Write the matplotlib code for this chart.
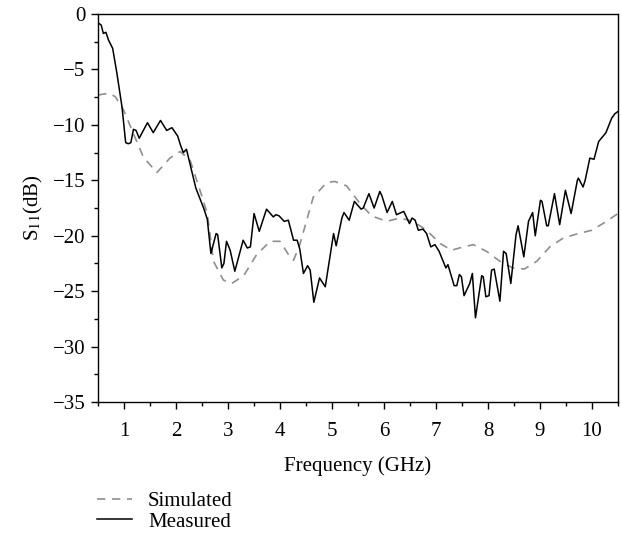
import numpy as np
import matplotlib
matplotlib.use('Agg')
import matplotlib.pyplot as plt
from matplotlib.ticker import MultipleLocator

# Measured S11 (jagged curve)
meas_f = [0.5, 0.56, 0.6, 0.65, 0.7, 0.78, 0.86, 0.96, 1.03, 1.08, 1.13, 1.18, 1.23, 1.29,
          1.45, 1.56, 1.70, 1.82, 1.92, 2.03, 2.09, 2.14, 2.2, 2.38, 2.53, 2.6, 2.67, 2.77,
          2.8, 2.88, 2.92, 2.97, 3.04, 3.13, 3.29, 3.37, 3.43, 3.5, 3.6, 3.74, 3.87, 3.92,
          3.98, 4.08, 4.16, 4.26, 4.33, 4.38, 4.45, 4.53, 4.58, 4.65, 4.76, 4.87, 5.03, 5.08,
          5.19, 5.23, 5.33, 5.43, 5.56, 5.6, 5.71, 5.81, 5.92, 5.96, 6.06, 6.16, 6.24, 6.38,
          6.49, 6.54, 6.6, 6.66, 6.75, 6.82, 6.9, 6.98, 7.06, 7.19, 7.23, 7.35, 7.4, 7.45,
          7.49, 7.54, 7.65, 7.7, 7.76, 7.88, 7.91, 7.96, 8.02, 8.07, 8.12, 8.23, 8.30, 8.35,
          8.44, 8.54, 8.58, 8.69, 8.78, 8.86, 8.91, 9.01, 9.04, 9.13, 9.16, 9.28, 9.38, 9.49,
          9.60, 9.72, 9.74, 9.83, 9.87, 9.96, 10.04, 10.13, 10.27, 10.38, 10.44, 10.5]
meas_s = [-0.8, -1.0, -1.75, -1.65, -2.35, -3.1, -5.3, -8.4, -11.6, -11.7, -11.6, -10.4, -10.5, -11.2,
          -9.8, -10.7, -9.6, -10.5, -10.25, -11.0, -11.9, -12.5, -12.2, -15.7, -17.5, -18.5, -21.6, -19.8,
          -19.9, -22.9, -22.5, -20.5, -21.3, -23.2, -20.4, -21.1, -21.0, -18.0, -19.6, -17.6, -18.3, -18.1,
          -18.2, -18.7, -18.6, -20.4, -20.4, -21.2, -23.4, -22.7, -23.1, -26.0, -23.8, -24.6, -19.8, -20.9,
          -18.4, -17.9, -18.6, -16.9, -17.6, -17.5, -16.2, -17.5, -16.0, -16.4, -17.9, -16.9, -18.1, -17.8,
          -18.9, -18.4, -18.6, -19.5, -19.4, -19.8, -21.0, -20.8, -21.4, -22.9, -22.6, -24.5, -24.5, -23.5,
          -23.7, -25.4, -24.3, -23.4, -27.4, -23.6, -23.7, -25.5, -25.4, -23.1, -23.0, -25.9, -21.4, -21.6,
          -24.3, -19.9, -19.1, -21.9, -18.7, -17.9, -20.0, -16.8, -16.9, -19.1, -19.1, -16.2, -19.0, -15.9,
          -18.0, -15.0, -14.8, -15.6, -15.0, -13.0, -13.1, -11.5, -10.7, -9.4, -9.0, -8.8]

# Simulated S11 (smooth dashed curve)
sim_f = [0.5, 0.7, 0.83, 0.99, 1.18, 1.37, 1.63, 1.88, 2.08, 2.27, 2.46, 2.6, 2.72, 2.91, 3.07,
         3.3, 3.55, 3.81, 4.0, 4.19, 4.26, 4.38, 4.64, 4.9, 5.05, 5.28, 5.54, 5.76, 6.05, 6.31,
         6.56, 6.82, 7.08, 7.3, 7.53, 7.72, 7.97, 8.23, 8.48, 8.7, 8.94, 9.19, 9.45, 9.74,
         10.0, 10.28, 10.5]
sim_s = [-7.3, -7.15, -7.45, -8.65, -10.8, -12.9, -14.3, -13.0, -12.4, -13.2, -15.9, -18.0, -22.3, -24.0, -24.3,
         -23.6, -21.7, -20.5, -20.5, -21.9, -22.2, -20.8, -16.5, -15.2, -15.1, -15.5, -17.1, -18.2, -18.7, -18.4,
         -18.7, -19.5, -20.7, -21.3, -21.0, -20.8, -21.4, -22.3, -22.9, -23.0, -22.3, -21.0, -20.2, -19.8,
         -19.5, -18.7, -18.0]

x_ticks = [1, 2, 3, 4, 5, 6, 7, 8, 9, 10]
y_ticks = [0, -5, -10, -15, -20, -25, -30, -35]

plt.rcParams['font.family'] = ['Liberation Serif', 'DejaVu Serif']
plt.rcParams['mathtext.fontset'] = 'stix'
plt.rcParams['font.size'] = 15

fig = plt.figure(figsize=(6.21, 5.39), dpi=100)
ax = fig.add_axes([0.158, 0.254, 0.837, 0.720])

sim_line, = ax.plot(sim_f, sim_s, color='#8f8f8f', lw=1.2, dashes=(5, 4), label='Simulated')
meas_line, = ax.plot(meas_f, meas_s, color='black', lw=1.1, label='Measured')

ax.set_xlim(0.5, 10.5)
ax.set_ylim(-35, 0)
ax.set_xticks(x_ticks)
ax.set_yticks(y_ticks)
ax.xaxis.set_minor_locator(MultipleLocator(0.5))
ax.yaxis.set_minor_locator(MultipleLocator(2.5))
ax.tick_params(which='both', direction='out', top=False, right=False, labelsize=15)
ax.tick_params(which='major', length=5, width=1, pad=4)
ax.tick_params(which='minor', length=3, width=1)
ax.tick_params(axis='x', which='major', pad=9)
for sp in ax.spines.values():
    sp.set_linewidth(1.0)

ax.set_xlabel('Frequency (GHz)', fontsize=15, labelpad=11)
ax.set_ylabel(r'S$_{11}$(dB)', fontsize=15, labelpad=6)

fig.legend(handles=[sim_line, meas_line], loc='upper left', bbox_to_anchor=(0.156, 0.088),
           frameon=False, fontsize=15, handlelength=1.7, handletextpad=0.75, labelspacing=0.05,
           borderaxespad=0, borderpad=0)

fig.savefig('out.png', dpi=100)
